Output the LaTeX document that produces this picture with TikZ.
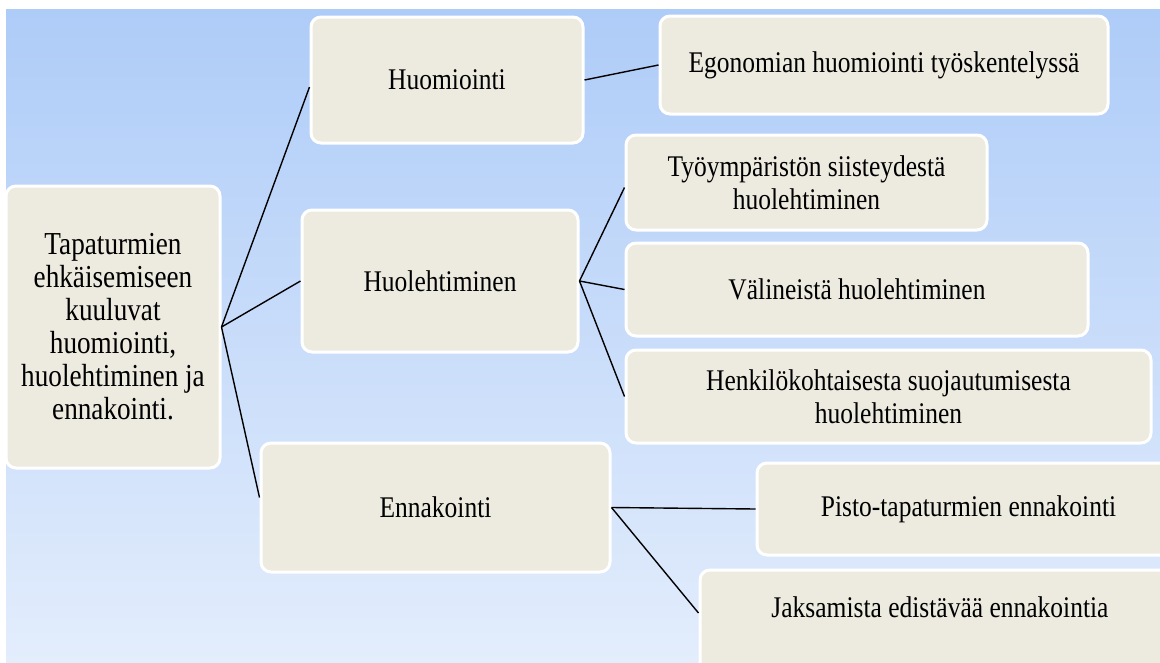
\documentclass[tikz,border=0pt]{standalone}
\usepackage{fontspec}
\setmainfont{Liberation Serif}[FakeStretch=0.85]
\definecolor{bgtop}{HTML}{AECCF8}
\definecolor{bgbot}{HTML}{E3EDFC}
\definecolor{boxfill}{HTML}{EDEBE0}

\begin{document}
\begin{tikzpicture}[x=1pt,y=-1pt,
  box/.style={draw=white,line width=3pt,fill=boxfill,rounded corners=10pt,
    align=center,inner sep=0pt,font=\fontsize{30}{32.5}\selectfont},
  link/.style={line width=1.4pt,black}]
\useasboundingbox (0,0) rectangle (1160,662);
\shade[top color=bgtop,bottom color=bgbot] (6,9) rectangle (1160,662);

\node[box,minimum width=214pt,minimum height=282pt,font=\fontsize{32}{33}\selectfont] (root) at (113,327)
  {Tapaturmien\\ehkäisemiseen\\kuuluvat\\huomiointi,\\huolehtiminen ja\\ennakointi.};

\node[box,minimum width=272pt,minimum height=126pt] (huom) at (447,80) {Huomiointi};
\node[box,minimum width=276pt,minimum height=142pt] (huol) at (440,281) {Huolehtiminen};
\node[box,minimum width=349pt,minimum height=129pt] (enna) at (435.5,507.5) {Ennakointi};

\node[box,minimum width=448pt,minimum height=98pt] (ergo) at (884,65) {Egonomian huomiointi työskentelyssä};

\node[box,minimum width=361pt,minimum height=95pt] (tyo) at (806.5,182.5) {Työympäristön siisteydestä\\huolehtiminen};
\node[box,minimum width=462pt,minimum height=93pt] (vali) at (857,289.5) {Välineistä huolehtiminen};
\node[box,minimum width=525pt,minimum height=93pt] (henk) at (888.5,396.5) {Henkilökohtaisesta suojautumisesta\\huolehtiminen};

\node[box,minimum width=423pt,minimum height=92pt] (pisto) at (968.5,509) {Pisto-tapaturmien ennakointi};
\node[box,minimum width=480pt,minimum height=110pt] (jaks) at (940,625) {Jaksamista edistävää ennakointia\\[4pt]\mbox{}};

\draw[link] (root.east) -- ([yshift=-7pt]huom.west);
\draw[link] (root.east) -- (huol.west);
\draw[link] (root.east) -- ([yshift=10pt]enna.west);
\draw[link] (huom.east) -- (ergo.west);
\draw[link] (huol.east) -- ([yshift=-5pt]tyo.west);
\draw[link] (huol.east) -- (vali.west);
\draw[link] (huol.east) -- (henk.west);
\draw[link] (enna.east) -- (pisto.west);
\draw[link] (enna.east) -- ([yshift=12pt]jaks.west);
\end{tikzpicture}
\end{document}
